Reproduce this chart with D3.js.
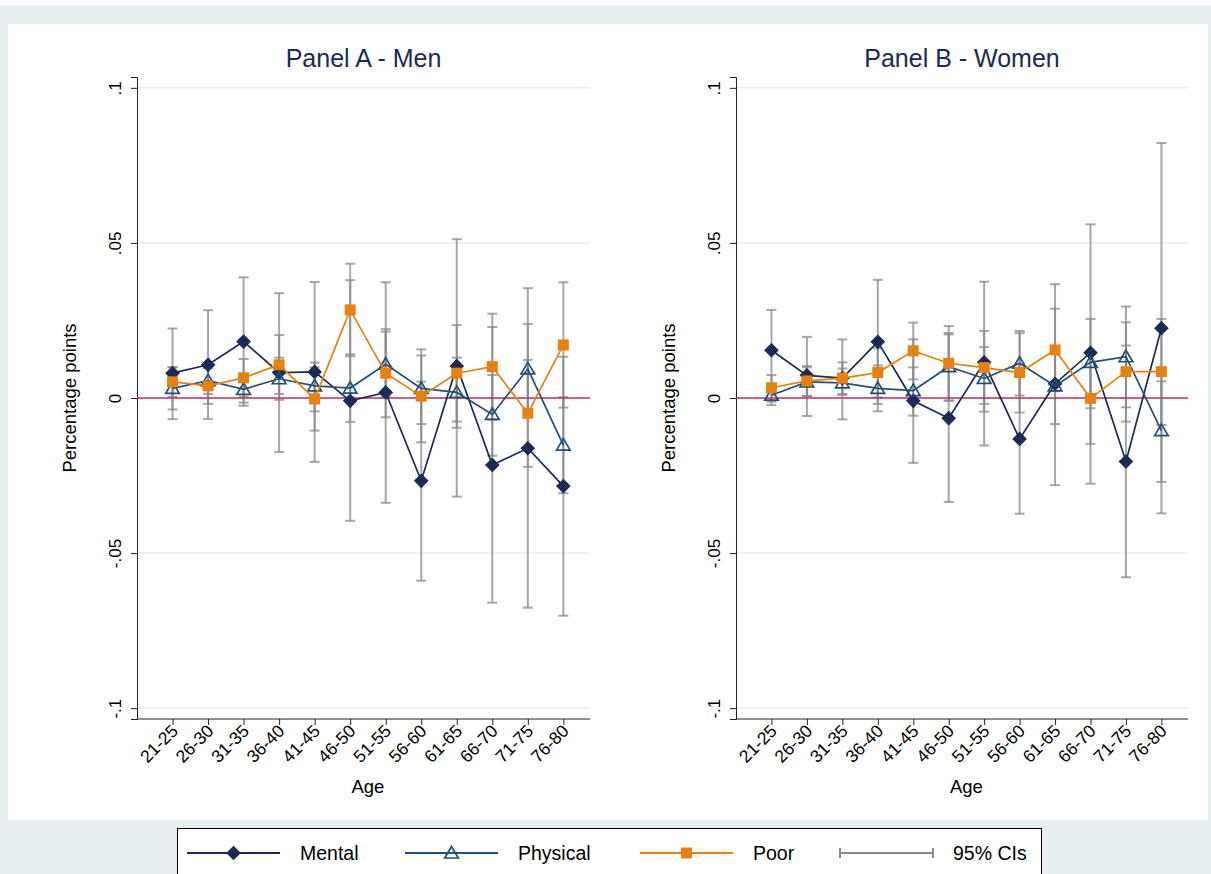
<!DOCTYPE html>
<html><head><meta charset="utf-8">
<script src="https://cdn.jsdelivr.net/npm/d3@7"></script>
<style>body{margin:0;background:#e8eff1;}svg{display:block;font-family:"Liberation Sans",Arial,sans-serif;}</style>
</head><body><svg id="c" width="1211" height="874"></svg>
<script>
const ages = ["21-25","26-30","31-35","36-40","41-45","46-50","51-55","56-60","61-65","66-70","71-75","76-80"];
const yTicks = [-0.1,-0.05,0,0.05,0.1];
const yTickLabels = ["-.1","-.05","0",".05",".1"];

const menMental   = [0.0080,0.0107,0.0182,0.0082,0.0084,-0.0009,0.0018,-0.0267,0.0103,-0.0216,-0.0162,-0.0284];
const menMentalLo = [-0.0068,-0.0068,-0.0025,-0.0174,-0.0206,-0.0396,-0.0338,-0.0589,-0.0318,-0.0660,-0.0676,-0.0702];
const menMentalHi = [0.0224,0.0283,0.0389,0.0338,0.0374,0.0380,0.0373,0.0053,0.0512,0.0229,0.0354,0.0133];
const menPhysical   = [0.0031,0.0056,0.0028,0.0062,0.0039,0.0032,0.0109,0.0031,0.0018,-0.0053,0.0094,-0.0152];
const menPhysicalLo = [-0.0037,0.0013,-0.0015,-0.0006,-0.0043,-0.0077,0.0004,-0.0084,-0.0096,-0.0186,-0.0051,-0.0307];
const menPhysicalHi = [0.0099,0.0099,0.0071,0.0130,0.0114,0.0141,0.0214,0.0137,0.0130,0.0074,0.0239,0.0003];
const menPoor   = [0.0052,0.0039,0.0065,0.0107,-0.0003,0.0284,0.0080,0.0006,0.0080,0.0101,-0.0049,0.0171];
const menPoorLo = [0.0004,-0.0019,0.0004,0.0013,-0.0105,0.0135,-0.0062,-0.0143,-0.0076,-0.0070,-0.0222,-0.0031];
const menPoorHi = [0.0099,0.0097,0.0126,0.0203,0.0099,0.0433,0.0222,0.0157,0.0235,0.0272,0.0123,0.0373];

const womenMental   = [0.0154,0.0073,0.0064,0.0181,-0.0009,-0.0065,0.0115,-0.0132,0.0046,0.0146,-0.0205,0.0225];
const womenMentalLo = [0.0024,-0.0058,-0.0069,-0.0019,-0.0209,-0.0335,-0.0153,-0.0373,-0.0281,-0.0276,-0.0578,-0.0372];
const womenMentalHi = [0.0284,0.0197,0.0189,0.0381,0.0189,0.0205,0.0375,0.0109,0.0367,0.0560,0.0169,0.0822];
const womenPhysical   = [0.0009,0.0052,0.0049,0.0031,0.0024,0.0101,0.0063,0.0112,0.0039,0.0115,0.0133,-0.0105];
const womenPhysicalLo = [-0.0023,0.0006,0.0010,-0.0043,-0.0057,-0.0009,-0.0044,0.0008,-0.0084,-0.0033,-0.0030,-0.0271];
const womenPhysicalHi = [0.0040,0.0099,0.0095,0.0105,0.0099,0.0210,0.0164,0.0216,0.0162,0.0255,0.0295,0.0054];
const womenPoor   = [0.0033,0.0055,0.0064,0.0082,0.0152,0.0112,0.0098,0.0082,0.0155,-0.0001,0.0085,0.0085];
const womenPoorLo = [-0.0012,0.0007,0.0013,0.0002,0.0060,-0.0008,-0.0019,-0.0047,0.0022,-0.0148,-0.0076,-0.0087];
const womenPoorHi = [0.0074,0.0103,0.0115,0.0160,0.0243,0.0232,0.0216,0.0209,0.0288,0.0146,0.0244,0.0255];

const colMental = "#1b2a56", colPhysical = "#1f4f7d", colPoor = "#e8820c", colCI = "#8a8a8a", colZero = "#c8285a", colTitle = "#1b2a56";

const svg = d3.select("#c");
svg.append("rect").attr("x",0).attr("y",0).attr("width",1211).attr("height",874).attr("fill","#e8eff1");
svg.append("rect").attr("x",0).attr("y",0).attr("width",1211).attr("height",5).attr("fill","#ffffff");
svg.append("rect").attr("x",8).attr("y",24).attr("width",1200).attr("height",796).attr("fill","#ffffff");

function drawMarker(g, type, x, y, color){
  if(type==="Mental"){
    g.append("path").attr("d", d3.symbol().type(d3.symbolSquare).size(88)()).attr("transform",`translate(${x},${y}) rotate(45)`).attr("fill",color).attr("stroke",color).attr("stroke-width",1);
  } else if(type==="Physical"){
    g.append("path").attr("d","M0,-6.5 L6.8,5 L-6.8,5 Z").attr("transform",`translate(${x},${y})`).attr("fill","none").attr("stroke",color).attr("stroke-width",1.7);
  } else {
    g.append("rect").attr("x",x-5.5).attr("y",y-5.5).attr("width",11).attr("height",11).attr("fill",color);
  }
}

function panel(title, x0, x1, data){
  const y = d3.scaleLinear().domain([-0.1035,0.1035]).range([719,77]);
  const x = d3.scaleLinear().domain([0,12.75]).range([x0,x1]);
  const g = svg.append("g");
  g.append("text").attr("x",(x0+x1)/2).attr("y",67).attr("text-anchor","middle").attr("font-size",25).attr("fill",colTitle).text(title);
  yTicks.filter(v=>v!==0).forEach(v=>{
    g.append("line").attr("x1",x0).attr("x2",x1).attr("y1",y(v)).attr("y2",y(v)).attr("stroke","#e6eff0").attr("stroke-width",1.5);
  });
  const ya = d3.axisLeft(y).tickValues(yTicks).tickSize(6).tickFormat((d,i)=>yTickLabels[i]);
  const yg = g.append("g").attr("transform",`translate(${x0},0)`).call(ya);
  yg.select(".domain").attr("stroke","#222");
  yg.selectAll(".tick line").attr("stroke","#222");
  yg.selectAll(".tick text").attr("font-size",17).attr("fill","#000").attr("font-family","Liberation Sans, Arial, sans-serif")
    .attr("text-anchor","middle").attr("x",0).attr("dy",0)
    .attr("transform","translate(-16,0) rotate(-90)");
  g.append("text").attr("transform",`translate(${x0-61},${y(0)}) rotate(-90)`).attr("text-anchor","middle").attr("font-size",18.5).attr("fill","#000").text("Percentage points");
  const xa = d3.axisBottom(x).tickValues(d3.range(1,13)).tickSize(6).tickFormat(i=>ages[i-1]);
  const xg = g.append("g").attr("transform",`translate(0,719)`).call(xa);
  xg.select(".domain").attr("stroke","#222").attr("d",`M${x0},0H${x1}`);
  xg.selectAll(".tick line").attr("stroke","#222");
  xg.selectAll(".tick text").attr("font-size",17.5).attr("fill","#000").attr("font-family","Liberation Sans, Arial, sans-serif")
    .attr("text-anchor","end").attr("dy",0).attr("y",0)
    .attr("transform","translate(6,13) rotate(-45)");
  g.append("text").attr("x",x(6.5)).attr("y",793).attr("text-anchor","middle").attr("font-size",18.5).attr("fill","#000").text("Age");
  const ci = g.append("g");
  data.forEach(s=>{
    s.lo.forEach((lo,i)=>{
      const hi = s.hi[i], cx = x(i+1);
      ci.append("line").attr("x1",cx).attr("x2",cx).attr("y1",y(lo)).attr("y2",y(hi)).attr("stroke",colCI).attr("stroke-width",2).attr("stroke-opacity",0.75);
      [lo,hi].forEach(v=>ci.append("line").attr("x1",cx-5).attr("x2",cx+5).attr("y1",y(v)).attr("y2",y(v)).attr("stroke",colCI).attr("stroke-width",2).attr("stroke-opacity",0.75));
    });
  });
  g.append("line").attr("x1",x0).attr("x2",x1).attr("y1",y(0)).attr("y2",y(0)).attr("stroke",colZero).attr("stroke-width",1.6);
  data.forEach(s=>{
    const line = d3.line().x((d,i)=>x(i+1)).y(d=>y(d));
    g.append("path").attr("d",line(s.v)).attr("fill","none").attr("stroke",s.color).attr("stroke-width",1.7);
    s.v.forEach((v,i)=>drawMarker(g, s.name, x(i+1), y(v), s.color));
  });
}

panel("Panel A - Men", 137, 590, [
  {name:"Mental", v:menMental, lo:menMentalLo, hi:menMentalHi, color:colMental},
  {name:"Physical", v:menPhysical, lo:menPhysicalLo, hi:menPhysicalHi, color:colPhysical},
  {name:"Poor", v:menPoor, lo:menPoorLo, hi:menPoorHi, color:colPoor}
]);
panel("Panel B - Women", 736, 1188, [
  {name:"Mental", v:womenMental, lo:womenMentalLo, hi:womenMentalHi, color:colMental},
  {name:"Physical", v:womenPhysical, lo:womenPhysicalLo, hi:womenPhysicalHi, color:colPhysical},
  {name:"Poor", v:womenPoor, lo:womenPoorLo, hi:womenPoorHi, color:colPoor}
]);

const lg = svg.append("g");
lg.append("rect").attr("x",177.5).attr("y",828.5).attr("width",864).attr("height",60).attr("fill","#fff").attr("stroke","#000").attr("stroke-width",1);
const items = [
  {name:"Mental", x:187, color:colMental},
  {name:"Physical", x:405, color:colPhysical},
  {name:"Poor", x:640, color:colPoor},
  {name:"95% CIs", x:840, color:colCI}
];
items.forEach(it=>{
  const ly = 853;
  if(it.name==="95% CIs"){
    lg.append("line").attr("x1",it.x).attr("x2",it.x+93).attr("y1",ly).attr("y2",ly).attr("stroke",colCI).attr("stroke-width",2);
    [it.x,it.x+93].forEach(cx=>lg.append("line").attr("x1",cx).attr("x2",cx).attr("y1",ly-5).attr("y2",ly+5).attr("stroke",colCI).attr("stroke-width",2));
  } else {
    lg.append("line").attr("x1",it.x).attr("x2",it.x+93).attr("y1",ly).attr("y2",ly).attr("stroke",it.color).attr("stroke-width",2);
    drawMarker(lg, it.name, it.x+46.5, ly, it.color);
  }
  lg.append("text").attr("x",it.x+113).attr("y",ly+7).attr("font-size",19.5).attr("fill","#000").text(it.name);
});
</script></body></html>
